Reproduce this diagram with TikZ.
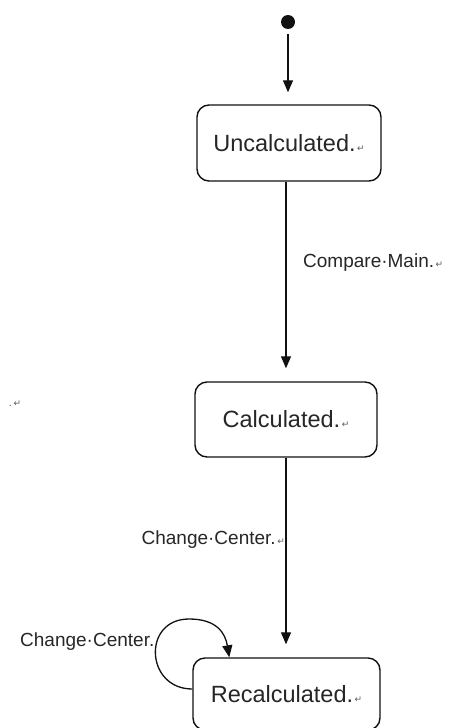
\documentclass[tikz,border=0pt]{standalone}
\usepackage{fontspec}
\setmainfont{Liberation Sans}
\newfontfamily\markfont{DejaVu Sans}
\usetikzlibrary{arrows.meta}
\definecolor{ink}{HTML}{111111}
\definecolor{txt}{HTML}{262626}
\definecolor{markgray}{HTML}{5A5A5A}
% Word-style paragraph mark after a line of text
\newcommand\parmark{{\markfont\fontsize{9}{9}\selectfont\color{markgray}\,↵}}

\begin{document}
\begin{tikzpicture}[x=1pt,y=-1pt,
  state/.style={draw=ink, line width=1.4pt, rounded corners=12pt,
    inner sep=0pt, font=\fontsize{23.5}{23.5}\selectfont, text=txt},
  trans/.style={draw=ink, line width=1.3pt, -{Triangle[length=12pt,width=10pt]}},
  lbl/.style={font=\fontsize{19}{19}\selectfont, text=txt, inner sep=0pt}]
\useasboundingbox (0,0) rectangle (454,728);

% initial pseudo-state
\node[circle, fill=ink, minimum size=14pt, inner sep=0pt] (init) at (288,22) {};

% states
\node[state, minimum width=184pt, minimum height=76pt] (uncalc) at (289,143) {Uncalculated.\parmark};
\node[state, minimum width=182pt, minimum height=75pt] (calc) at (286,419.5) {Calculated.\parmark};
\node[state, minimum width=187pt, minimum height=72pt] (recalc) at (286.5,694) {Recalculated.\parmark};

% transitions
\draw[trans, shorten <=5pt, shorten >=12pt] (init) -- (init |- uncalc.north);
\draw[trans, shorten >=13pt] (uncalc.south -| calc.north) -- (calc.north);
\draw[trans, shorten >=13pt] (calc.south) -- (calc.south |- recalc.north);

% self transition on Recalculated
\coordinate (loopS) at ([yshift=5pt]recalc.west);
\coordinate (loopT) at (189,619);
\coordinate (loopE) at ([xshift=37pt]recalc.north west);
\draw[trans] (loopS) .. controls +(-47,0) and +(-47,0) .. (loopT)
  .. controls +(28,0) and +(-4,-24) .. (loopE);

% transition labels
\node[lbl, anchor=west] (lblCompare) at (303,263) {Compare·Main.\parmark};
\node[lbl, anchor=east] (lblChange) at (285,540) {Change·Center.\parmark};
\node[lbl, anchor=west] (lblLoop) at (20,642) {Change·Center.};

% stray empty paragraph
\node[inner sep=0pt, font=\fontsize{11}{11}\selectfont, text=markgray] (stray) at (15,404) {.\parmark};
\end{tikzpicture}
\end{document}
